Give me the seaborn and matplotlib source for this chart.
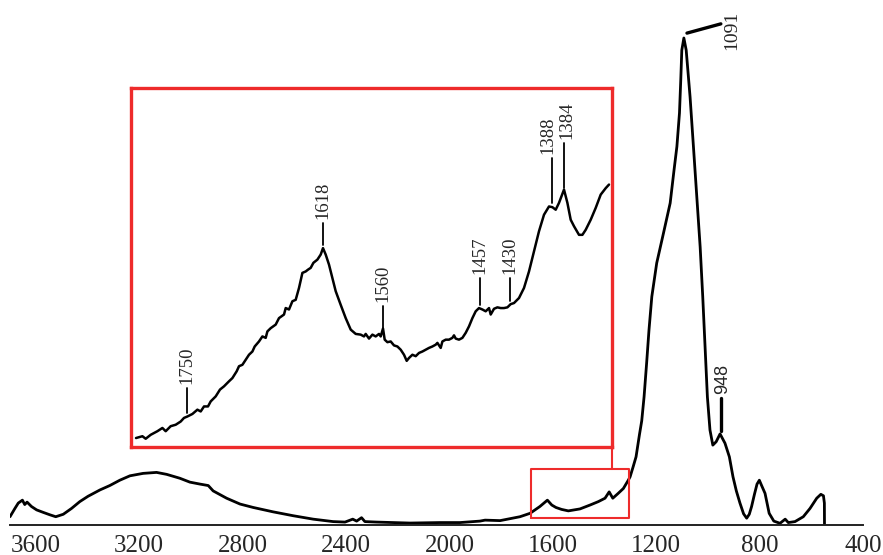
"""
IR spectrum with zoomed inset of the 1800-1330 cm-1 region.
"""
import numpy as np
import pandas as pd
import matplotlib
matplotlib.use("Agg")
import matplotlib.pyplot as plt
import seaborn as sns

# full spectrum (wavenumber, cm-1 / intensity, a.u.)
wavenumber = [3700, 3681, 3668, 3652, 3643, 3634, 3617, 3597, 3572, 3546, 3523, 3494,
              3462, 3430, 3398, 3352, 3314, 3275, 3236, 3185, 3133, 3094, 3043, 3004,
              2965, 2933, 2914, 2862, 2810, 2759, 2682, 2604, 2527, 2450, 2404, 2374,
              2359, 2340, 2327, 2282, 2153, 2037, 1959, 1882, 1862, 1804, 1727, 1688,
              1650, 1621, 1604, 1588, 1566, 1540, 1495, 1456, 1424, 1398, 1382, 1368,
              1347, 1327, 1308, 1301, 1289, 1278, 1265, 1256, 1247, 1237, 1228, 1217,
              1198, 1172, 1146, 1131, 1120, 1110, 1105, 1101, 1093, 1084, 1069, 1056,
              1043, 1030, 1020, 1011, 1002, 992, 981, 968, 953, 934, 917, 903, 890,
              876, 862, 850, 840, 831, 820, 810, 801, 793, 779, 763, 745, 721, 701,
              689, 663, 631, 605, 579, 563, 553, 549.4, 549.0]
intensity = [1.7, 3.4, 4.5, 5.1, 4.2, 4.7, 3.8, 3.1, 2.6, 2.1, 1.7, 2.2,
             3.4, 4.8, 5.9, 7.2, 8.1, 9.2, 10.1, 10.6, 10.8, 10.4, 9.6, 8.8,
             8.4, 8.1, 7.0, 5.5, 4.3, 3.6, 2.7, 1.9, 1.2, 0.7, 0.6, 1.2,
             0.8, 1.5, 0.7, 0.6, 0.4, 0.5, 0.5, 0.8, 1.0, 0.9, 1.7, 2.4,
             3.8, 5.1, 4.1, 3.6, 3.2, 2.9, 3.3, 4.1, 4.8, 5.5, 6.8, 5.5,
             6.5, 7.5, 9.2, 9.9, 12.0, 14.0, 18.5, 21.4, 26.3, 33.3, 40.0, 46.9,
             53.8, 59.9, 66.1, 72.9, 77.7, 84.6, 91.4, 97.5, 100.0, 97.5, 87.9, 77.7,
             67.4, 57.1, 46.9, 36.6, 26.3, 19.5, 16.4, 17.1, 18.7, 16.8, 14.0, 9.9, 7.0,
             4.5, 2.3, 1.4, 2.2, 3.8, 6.3, 8.4, 9.2, 8.2, 6.5, 2.4, 0.8, 0.35, 1.2,
             0.5, 0.7, 1.7, 3.4, 5.5, 6.3, 6.0, 4.5, 0.0]
ticks = [3600, 3200, 2800, 2400, 2000, 1600, 1200, 800, 400]

# inset region (wavenumber, cm-1 / intensity, a.u.)
inset_wn = [1805, 1798.6, 1795.3, 1790.3, 1783.6, 1778.6, 1775.3, 1770.3, 1765.3, 1760.3,
            1757, 1753.6, 1748.6, 1743.6, 1740.3, 1737, 1733, 1730.3, 1725.3, 1721,
            1717, 1712, 1708.6, 1704.3, 1702, 1698.6, 1695.3, 1692, 1688.6, 1686.3,
            1682, 1678.6, 1675.3, 1673.6, 1670.3, 1665.3, 1662, 1657, 1655.3, 1652,
            1648.6, 1645.3, 1642, 1638.6, 1635.3, 1633, 1630.3, 1627.6, 1623.6, 1620.3,
            1618, 1615.3, 1612, 1608.6, 1605.3, 1600.3, 1595.3, 1590.3, 1585.3, 1580.3,
            1577, 1575.3, 1572, 1568.6, 1565.3, 1562, 1560.3, 1558, 1556.3, 1553.6,
            1550.3, 1547, 1543.6, 1540.3, 1537, 1534.3, 1532, 1528.6, 1525.3, 1522,
            1518.6, 1515.3, 1512, 1508.6, 1505.3, 1503.6, 1500.3, 1498.6, 1495.3, 1492,
            1488.6, 1487, 1485.3, 1482, 1478.6, 1475.3, 1472, 1468.6, 1465.3, 1462,
            1458.6, 1455.3, 1452, 1450.3, 1447, 1443.6, 1440.3, 1437, 1433.6, 1430.3,
            1427, 1422, 1417, 1412, 1407, 1402, 1397, 1392, 1388.6, 1385.3,
            1382, 1377, 1373.6, 1370.3, 1367, 1362, 1358.6, 1355.3, 1350.3, 1345.3,
            1340.3, 1335.3, 1332]
inset_int = [2.5, 3.0, 2.3, 3.4, 4.4, 5.3, 4.4, 5.8, 6.2, 7.1,
             8.1, 8.5, 9.2, 10.4, 9.9, 11.3, 11.3, 12.7, 14.1, 16.0,
             16.9, 18.3, 19.2, 21.1, 22.5, 22.9, 24.3, 25.7, 26.6, 28.0,
             29.4, 30.8, 30.4, 32.2, 33.1, 34.1, 35.9, 36.9, 38.7, 38.3,
             40.6, 41.0, 44.3, 48.5, 48.9, 49.4, 49.9, 51.3, 52.2, 53.6,
             55.4, 53.6, 50.8, 47.1, 43.4, 39.6, 35.9, 32.7, 31.5, 31.3,
             30.8, 31.5, 30.2, 31.3, 30.8, 31.5, 30.8, 33.0, 29.9, 29.2,
             29.4, 28.3, 28.0, 27.1, 25.7, 24.0, 24.8, 25.7, 25.3, 26.2,
             26.6, 27.1, 27.6, 28.0, 28.5, 29.0, 27.6, 29.4, 29.9, 29.9,
             30.4, 31.1, 30.2, 29.9, 30.4, 31.8, 33.6, 35.9, 37.8, 38.7,
             38.3, 37.8, 38.7, 36.9, 38.5, 38.9, 38.7, 38.7, 38.9, 39.8,
             40.1, 41.5, 44.3, 48.9, 54.5, 60.1, 64.7, 67.0, 66.8, 66.1,
             68.0, 71.7, 68.0, 63.3, 61.5, 59.1, 59.1, 60.5, 63.3, 66.6,
             70.3, 72.1, 73.1]

# inset peak labels: text, position, line bottom, line top
inset_labels = ["1750", "1618", "1560", "1457", "1430", "1388", "1384"]
inset_pos = [1753.6, 1618, 1558, 1461, 1431, 1388.6, 1377]
inset_low = [9.5, 56.4, 33.1, 39.6, 40.6, 68.0, 72.1]
inset_high = [16.4, 62.4, 39.2, 47.1, 47.1, 80.5, 84.7]
label_shift = [0, 0, 0, 0, 0, -3, 2]

sns.set_style("white")
plt.rcParams["font.family"] = ["Liberation Serif", "DejaVu Serif"]
plt.rcParams["lines.solid_joinstyle"] = "round"

fig = plt.figure(figsize=(8.83, 5.55), dpi=100)
ax = fig.add_axes([10 / 883, 30 / 555, 853 / 883, 525 / 555])

sns.lineplot(x=wavenumber, y=intensity, ax=ax, color="black", lw=2.0,
             sort=False, estimator=None)
ax.set_xlim(3700, 400)
ax.set_ylim(0, 107.8)
for s in ["left", "right", "top"]:
    ax.spines[s].set_visible(False)
ax.spines["bottom"].set_linewidth(1.4)
ax.spines["bottom"].set_color("#222222")
ax.set_xticks(ticks)
ax.set_xticklabels([str(t) for t in ticks])
ax.set_yticks([])
ax.tick_params(axis="x", direction="in", length=6, width=1.2, pad=7,
               labelsize=18, color="#222222")

# peak marks on the full spectrum
ax.plot([1081, 950], [101.0, 102.9], color="black", lw=2.4,
        solid_capstyle="round")
ax.text(906, 101.5, "1091", rotation=90, ha="center", va="center", fontsize=14)
ax.plot([949, 949], [19.3, 26.1], color="black", lw=2.4)
ax.text(942, 26.8, "948", rotation=90, ha="center", va="bottom", fontsize=13,
        family=["Liberation Sans", "DejaVu Sans"])

# zoomed region marker and connector
red = "#ee2b2b"
ax.plot([1686, 1304, 1304, 1686, 1686], [1.5, 1.5, 11.4, 11.4, 1.5],
        color=red, lw=1.5)
ax.plot([1370, 1370], [11.4, 16.0], color=red, lw=1.5)

# inset
axin = fig.add_axes([131 / 883, 108 / 555, 481 / 883, 359 / 555])
sns.lineplot(x=inset_wn, y=inset_int, ax=axin, color="black", lw=1.8,
             sort=False, estimator=None)
axin.set_xlim(1810, 1329)
axin.set_ylim(0, 100)
axin.set_xticks([])
axin.set_yticks([])
for s in axin.spines.values():
    s.set_color(red)
    s.set_linewidth(2.4)

for lab, p, lo, hi, dx in zip(inset_labels, inset_pos, inset_low, inset_high,
                              label_shift):
    axin.plot([p, p], [lo, hi], color="black", lw=1.3)
    axin.annotate(lab, xy=(p, hi), xytext=(dx, 3), textcoords="offset points",
                  rotation=90, ha="center", va="bottom", fontsize=13.5)

fig.savefig("out.png", dpi=100)
